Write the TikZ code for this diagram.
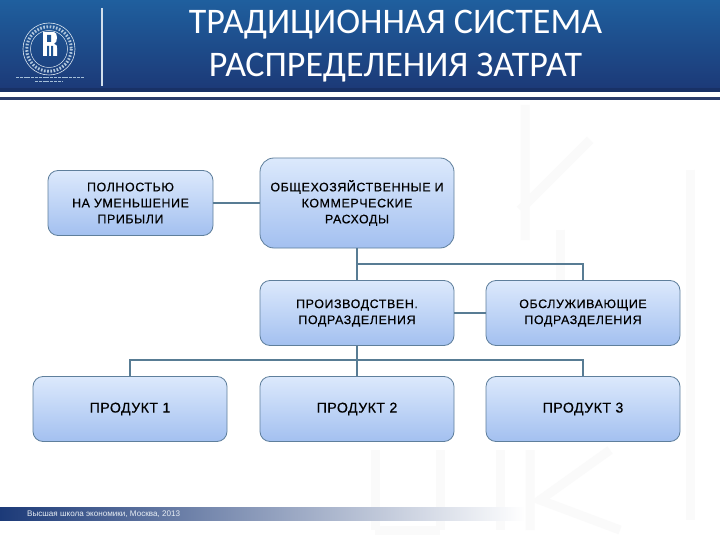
\documentclass[tikz,border=0pt]{standalone}
\usepackage{fontspec}
\setmainfont{Liberation Sans}
\newfontfamily\titlefont{Carlito}
\newfontfamily\boxfont[LetterSpace=5,FakeBold=0.4]{Liberation Sans}
\newfontfamily\prodfont[LetterSpace=3,FakeBold=0.4]{Liberation Sans}
\definecolor{headtop}{HTML}{1F5F9E}
\definecolor{headbot}{HTML}{1C3A78}
\definecolor{stripe}{HTML}{2B3D6B}
\definecolor{boxtop}{HTML}{DCE9FC}
\definecolor{boxbot}{HTML}{A3C0F0}
\definecolor{boxline}{HTML}{5F7F9C}
\definecolor{linkcol}{HTML}{587C94}
\definecolor{mark}{HTML}{FAFAFA}
\tikzset{
  unitbox/.style={draw=boxline, line width=0.8pt, rounded corners=10pt, top color=boxtop, bottom color=boxbot,
    minimum width=194pt, minimum height=65pt, align=center, inner sep=0pt, font=\boxfont\fontsize{12.4}{16}\selectfont},
  prodbox/.style={unitbox, font=\prodfont\fontsize{14.2}{16}\selectfont},
  link/.style={draw=linkcol, line width=2pt},
  watermark/.style={draw=mark, line width=9pt}
}
\begin{document}
\begin{tikzpicture}[x=1pt, y=-1pt]
  \useasboundingbox (0,0) rectangle (720,540);
  \fill[white] (0,0) rectangle (720,540);
  % faint background letters
  \draw[watermark] (525,105) -- (525,240) (590,140) -- (520,210);
  \draw[watermark] (690,170) -- (690,520) (560,230) -- (560,330) -- (650,330);
  \draw[watermark] (375,450) -- (375,530) (440,450) -- (440,530) (375,530) -- (440,530) (500,450) -- (500,530);
  \draw[watermark] (530,530) -- (530,450) (610,450) -- (540,500) -- (620,530);
  % header
  \shade[top color=headtop, bottom color=headbot] (0,0) rectangle (720,88);
  \fill[headbot!85!black] (0,88) rectangle (720,92);
  \fill[stripe] (0,97.5) rectangle (720,100);
  \draw[white!80!headtop, line width=1.3pt] (102,8) -- (102,86);
  % logo
  \draw[white!85!headtop, line width=0.6pt] (49,49) circle (26);
  \draw[white!85!headtop, line width=0.5pt] (49,49) circle (18.5);
  \draw[white!65!headtop, line width=3pt, dash pattern=on 1.6pt off 1.6pt] (49,49) circle (22.3);
  \fill[white] (43,32) -- (54,32) .. controls (58,32) and (58,43) .. (54,44) .. controls (57,44) and (57,46) .. (57,48) -- (57,56) -- (43,56) -- cycle;
  \fill[headtop!70!headbot] (47,35) rectangle (51,42) (47,46) rectangle (49,56) (51,46) rectangle (53,56);
  \draw[white!60!headtop, line width=0.9pt, dash pattern=on 3pt off 0.8pt] (16,77) -- (84,77) (35,81.5) -- (62,81.5);
  % title
  \node[text=white, font=\titlefont\fontsize{36}{43}\selectfont, align=center] (title) at (395.5,46) {ТРАДИЦИОННАЯ СИСТЕМА\\РАСПРЕДЕЛЕНИЯ ЗАТРАТ};
  % footer
  \shade[left color=headbot, right color=white] (0,507) rectangle (525,520);
  \node[text=white!90!headtop, font=\fontsize{8.1}{9}\selectfont, anchor=west, inner sep=0pt] (foot) at (27,514) {Высшая школа экономики, Москва, 2013};
  % boxes
  \node[unitbox, minimum width=165pt] (profit) at (130.5,203) {ПОЛНОСТЬЮ\\НА УМЕНЬШЕНИЕ\\ПРИБЫЛИ};
  \node[unitbox, minimum height=90pt, rounded corners=14pt] (general) at (357,203) {ОБЩЕХОЗЯЙСТВЕННЫЕ И\\КОММЕРЧЕСКИЕ\\РАСХОДЫ};
  \node[unitbox] (prodn) at (357,313) {ПРОИЗВОДСТВЕН.\\ПОДРАЗДЕЛЕНИЯ};
  \node[unitbox] (serv) at (583,313) {ОБСЛУЖИВАЮЩИЕ\\ПОДРАЗДЕЛЕНИЯ};
  \node[prodbox] (prodone) at (130,409) {ПРОДУКТ 1};
  \node[prodbox] (prodtwo) at (357,409) {ПРОДУКТ 2};
  \node[prodbox] (prodthree) at (583,409) {ПРОДУКТ 3};
  % connectors
  \coordinate (busup) at (357,264);
  \coordinate (busdown) at (357,360);
  \draw[link] (profit) -- (general);
  \draw[link] (general) -- (prodn);
  \draw[link] (busup) -| (serv);
  \draw[link] (prodn) -- (serv);
  \draw[link] (prodn) -- (prodtwo);
  \draw[link] (prodone) |- (busdown);
  \draw[link] (busdown) -| (prodthree);
\end{tikzpicture}
\end{document}
